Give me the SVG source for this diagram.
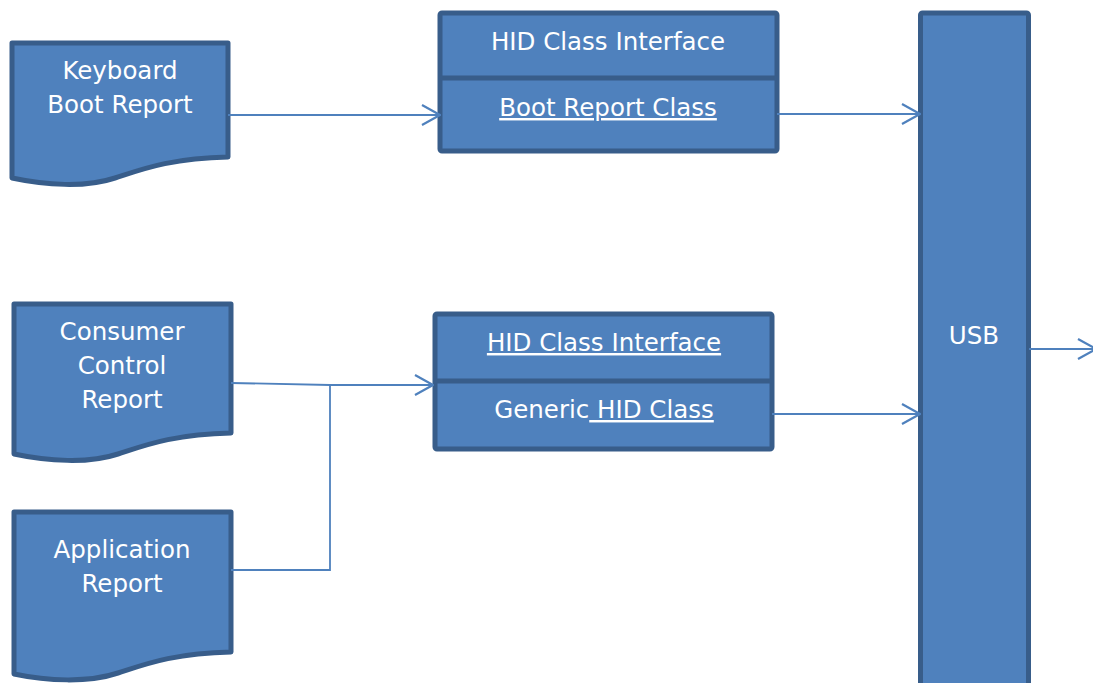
<svg xmlns="http://www.w3.org/2000/svg" width="1093" height="683" viewBox="0 0 1093 683">
  <defs>
    <style>
      .shape { fill: #4F81BD; stroke: #385D8A; stroke-width: 5; stroke-linejoin: round; }
      .divider { stroke: #385D8A; stroke-width: 5; }
      .label { fill: #FFFFFF; font-family: "DejaVu Sans", Verdana, sans-serif; font-size: 24.5px; text-anchor: middle; }
      .u { text-decoration: underline; }
      .wire { fill: none; stroke: #4F81BD; stroke-width: 1.8; }
    </style>
    <marker id="open" viewBox="0 0 20 24" refX="19" refY="12" markerWidth="20" markerHeight="24" markerUnits="userSpaceOnUse" orient="auto">
      <path d="M1,2 L19,12 L1,22" fill="none" stroke="#4F81BD" stroke-width="2.2"/>
    </marker>
  </defs>

  <!-- report documents -->
  <g id="keyboard-report">
    <path class="shape" d="M12,43 H228 V157 C170,158 140,170 115,178 C85,188 45,185 12,178 Z"/>
    <text class="label" x="120" y="79">Keyboard</text>
    <text class="label" x="120" y="113">Boot Report</text>
  </g>

  <g id="consumer-report">
    <path class="shape" d="M14,304 H231 V433 C173,434 143,446 118,454 C88,464 47,461 14,454 Z"/>
    <text class="label" x="122" y="340">Consumer</text>
    <text class="label" x="122" y="374">Control</text>
    <text class="label" x="122" y="408">Report</text>
  </g>

  <g id="application-report">
    <path class="shape" d="M14,512 H231 V652 C173,653 143,665 118,673 C88,683 47,681 14,674 Z"/>
    <text class="label" x="122" y="558">Application</text>
    <text class="label" x="122" y="592">Report</text>
  </g>

  <!-- HID class interfaces -->
  <g id="boot-interface">
    <rect class="shape" x="440" y="13" width="337" height="138" rx="2"/>
    <line class="divider" x1="440" y1="78" x2="777" y2="78"/>
    <text class="label" x="608" y="50">HID Class Interface</text>
    <text class="label u" x="608" y="116">Boot Report Class</text>
  </g>

  <g id="generic-interface">
    <rect class="shape" x="435" y="314" width="337" height="135" rx="2"/>
    <line class="divider" x1="435" y1="381" x2="772" y2="381"/>
    <text class="label u" x="604" y="351">HID Class Interface</text>
    <text class="label" x="604" y="418" xml:space="preserve">Generic<tspan class="u"> HID Class</tspan></text>
  </g>

  <!-- USB bus -->
  <g id="usb">
    <rect class="shape" x="920.5" y="13" width="108" height="690" rx="2"/>
    <text class="label" x="974" y="344">USB</text>
  </g>

  <!-- connectors -->
  <g id="connectors">
    <path class="wire" d="M228,115 H440" marker-end="url(#open)"/>
    <path class="wire" d="M777,114 H920" marker-end="url(#open)"/>
    <path class="wire" d="M231,383 L330,385 H433" marker-end="url(#open)"/>
    <path class="wire" d="M231,570 H330 V385"/>
    <path class="wire" d="M772,414 H920" marker-end="url(#open)"/>
    <path class="wire" d="M1029,349 H1096" marker-end="url(#open)"/>
  </g>
</svg>
